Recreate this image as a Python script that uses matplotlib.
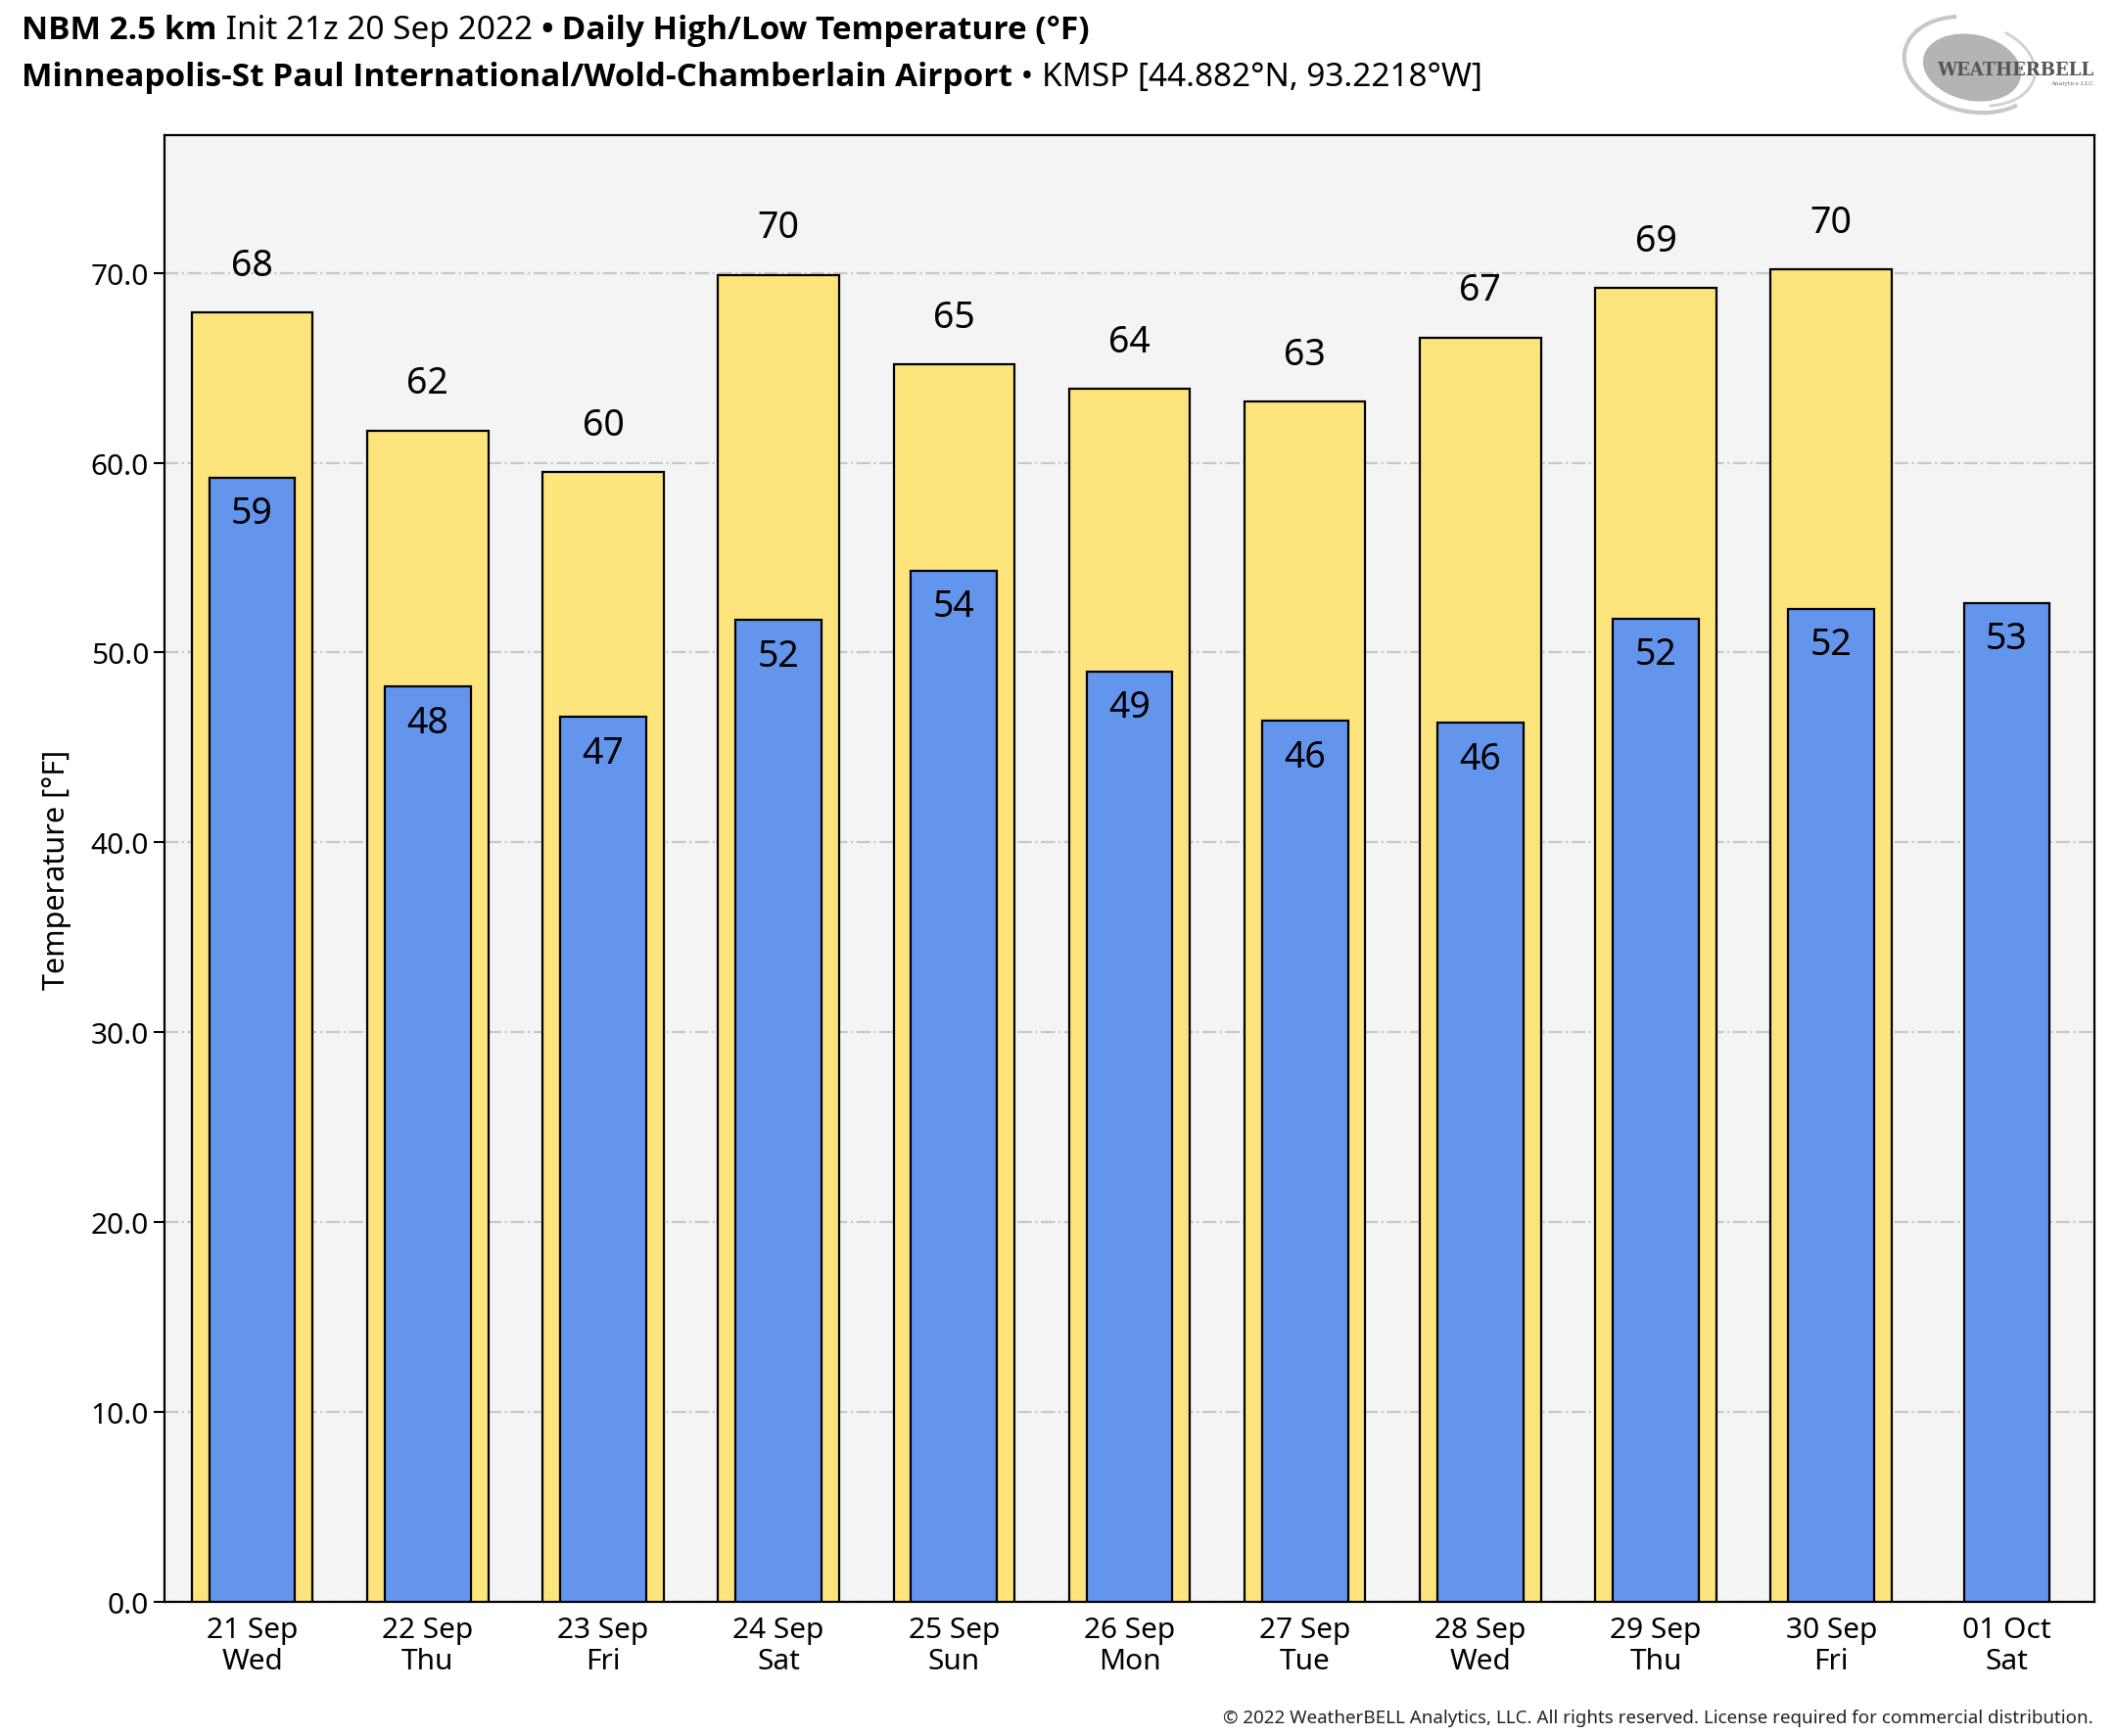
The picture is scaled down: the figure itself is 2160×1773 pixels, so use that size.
import numpy as np
import matplotlib
matplotlib.use("Agg")
import matplotlib.pyplot as plt
from matplotlib.patches import Ellipse, Arc

plt.rcParams['font.family'] = ['Noto Sans', 'DejaVu Sans']

# data
days = ["21 Sep\nWed", "22 Sep\nThu", "23 Sep\nFri", "24 Sep\nSat", "25 Sep\nSun",
        "26 Sep\nMon", "27 Sep\nTue", "28 Sep\nWed", "29 Sep\nThu", "30 Sep\nFri",
        "01 Oct\nSat"]
highs = [67.9, 61.7, 59.5, 69.9, 65.2, 63.9, 63.2, 66.6, 69.2, 70.2]
lows = [59.2, 48.2, 46.6, 51.7, 54.3, 49.0, 46.4, 46.3, 51.8, 52.3, 52.6]
yticks = [0, 10, 20, 30, 40, 50, 60, 70]

W, H = 2160, 1774
fig = plt.figure(figsize=(W / 100, H / 100), dpi=100)
ax = fig.add_axes([168 / W, 1 - 1637 / H, (2139 - 168) / W, (1637 - 139) / H])
ax.set_facecolor("#f4f4f4")

x = np.arange(len(days))
xh = x[:len(highs)]
ax.bar(xh, highs, width=0.69, color="#fde47c", edgecolor="black", linewidth=1.6, zorder=3)
ax.bar(x, lows, width=0.49, color="#6495ed", edgecolor="black", linewidth=1.6, zorder=4)

for xi, v in zip(xh, highs):
    ax.text(xi, v + 1.5, f"{v:.0f}", ha="center", va="bottom", fontsize=27, zorder=5)
for xi, v in zip(x, lows):
    ax.text(xi, v - 0.9, f"{v:.0f}", ha="center", va="top", fontsize=27, zorder=5)

ax.set_xlim(-0.5, len(days) - 0.5)
ax.set_ylim(0, 77.25)
ax.set_yticks(yticks)
ax.set_yticklabels([f"{t:.1f}" for t in yticks])
ax.set_xticks(x)
ax.set_xticklabels(days, linespacing=1.15)
ax.tick_params(axis="both", labelsize=21.5, length=8, width=1.5)
ax.tick_params(axis="x", length=0, pad=10)
ax.grid(axis="y", color="#c8c8c8", linestyle="-.", linewidth=1.6, zorder=1)
for s in ax.spines.values():
    s.set_linewidth(1.6)
ax.set_ylabel("Temperature [°F]", fontsize=22, labelpad=14)


def line(pieces, x0, y0):
    # pieces drawn one after another, measured with the renderer
    r = fig.canvas.get_renderer()
    xpos = x0
    for txt, wt in pieces:
        fam = ["Open Sans", "DejaVu Sans"] if wt == "bold" else ["Noto Sans", "DejaVu Sans"]
        t = fig.text(xpos, y0, txt, fontsize=24, fontweight=wt, family=fam, ha="left",
                     va="baseline", transform=None)
        bb = t.get_window_extent(renderer=r)
        xpos = bb.x1


line([("NBM 2.5 km", "bold"), (" Init 21z 20 Sep 2022 ", "normal"), ("•", "bold"),
      (" Daily High/Low Temperature (°F)", "bold")], 22, H - 40)
line([("Minneapolis-St Paul International/Wold-Chamberlain Airport", "bold"),
      (" • ", "normal"), ("KMSP [44.882°N, 93.2218°W]", "normal")], 22, H - 88)

fig.text(2138 / W, 1 - 1760 / H, "© 2022 WeatherBELL Analytics, LLC. All rights reserved. "
         "License required for commercial distribution.", fontsize=13.5,
         ha="right", va="baseline", color="#222222")

# logo approximation
lax = fig.add_axes([1942 / W, 1 - 122 / H, 200 / W, 106 / H])
lax.set_xlim(0, 200)
lax.set_ylim(0, 106)
lax.axis("off")
lax.add_patch(Ellipse((72, 52), 100, 66, angle=-12, color="#b4b4b4"))
lax.add_patch(Arc((72, 55), 140, 96, angle=-12, theta1=120, theta2=330,
                  color="#c8c8c8", linewidth=3))
lax.add_patch(Arc((76, 55), 122, 82, angle=-12, theta1=300, theta2=420,
                  color="#d0d0d0", linewidth=2))
lax.text(36, 50, "WEATHERBELL", fontsize=13, family="DejaVu Serif",
         color="#555555", va="center", fontweight="bold")
lax.text(196, 36, "Analytics LLC", fontsize=4.5, family="DejaVu Serif",
         color="#666666", ha="right", va="center")

fig.savefig("out.png", dpi=100, facecolor="white")
